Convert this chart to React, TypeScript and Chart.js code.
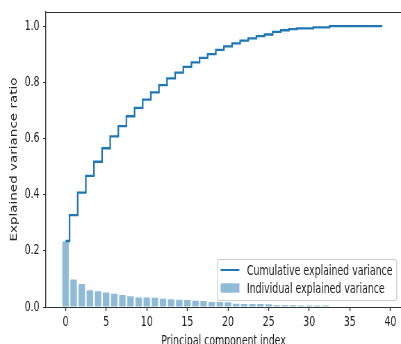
import React, { useEffect, useRef } from 'react';
import { Chart, registerables } from 'chart.js';

Chart.register(...registerables);

// ---------- data ----------
const componentIndex = [
  0, 1, 2, 3, 4, 5, 6, 7, 8, 9,
  10, 11, 12, 13, 14, 15, 16, 17, 18, 19,
  20, 21, 22, 23, 24, 25, 26, 27, 28, 29,
  30, 31, 32, 33, 34, 35, 36, 37, 38, 39,
];

const individualVariance = [
  0.233, 0.098, 0.082, 0.060, 0.056, 0.052, 0.047, 0.043, 0.038, 0.034,
  0.034, 0.033, 0.029, 0.028, 0.026, 0.025, 0.022, 0.021, 0.018, 0.018,
  0.017, 0.012, 0.011, 0.011, 0.011, 0.010, 0.006, 0.006, 0.006, 0.005,
  0.005, 0.005, 0.005, 0.0, 0.0, 0.0, 0.0, 0.0, 0.0, 0.0,
];

const cumulativeVariance = [
  0.235, 0.327, 0.407, 0.467, 0.517, 0.565, 0.607, 0.644, 0.679, 0.709,
  0.738, 0.764, 0.790, 0.814, 0.834, 0.855, 0.871, 0.887, 0.900, 0.915,
  0.928, 0.938, 0.948, 0.956, 0.964, 0.970, 0.979, 0.985, 0.989, 0.992,
  0.992, 0.995, 0.995, 1.0, 1.0, 1.0, 1.0, 1.0, 1.0, 1.0,
];

const xTickValues = [0, 5, 10, 15, 20, 25, 30, 35, 40];
const yTickValues = [0, 0.2, 0.4, 0.6, 0.8, 1.0];

const cumulativeLabel = 'Cumulative explained variance';
const individualLabel = 'Individual explained variance';
const xTitle = 'Principal component index';
const yTitle = 'Explained variance ratio';

// ---------- presentation ----------
const SCREEN_W = 401;
const SCREEN_H = 344;
const SQUISH = 0.695; // reference is horizontally compressed
const CANVAS_W = Math.round(SCREEN_W / SQUISH);
const CANVAS_H = SCREEN_H;
const FONT_SIZE = 13.5;
const FONT_FAMILY = '"DejaVu Sans", sans-serif';
const BLUE = '#1f77b4';
const BAR_FILL = 'rgba(31,119,180,0.5)';
const TEXT = '#222222';
const SPINE = '#333333';

const framePlugin = {
  id: 'topSpine',
  afterDraw(chart: any) {
    const { ctx, chartArea } = chart;
    ctx.save();
    ctx.strokeStyle = SPINE;
    ctx.lineWidth = 1;
    ctx.beginPath();
    const y = Math.round(chartArea.top) + 0.5;
    ctx.moveTo(chartArea.left, y);
    ctx.lineTo(chartArea.right, y);
    ctx.stroke();
    ctx.restore();
  },
};

const legendPlugin = {
  id: 'insideLegend',
  afterDraw(chart: any) {
    const { ctx, chartArea } = chart;
    const em = FONT_SIZE;
    const datasets = chart.data.datasets;
    ctx.save();
    ctx.font = `${FONT_SIZE}px ${FONT_FAMILY}`;
    const labels = datasets.map((d: any) => d.label as string);
    const textW = Math.max(...labels.map((l: string) => ctx.measureText(l).width));
    const pad = 0.4 * em;
    const handle = 2 * em;
    const gap = 0.8 * em;
    const width = pad + handle + gap + textW + pad;
    const height = 41;
    const right = chartArea.right - 0.5 * em;
    const bottom = chartArea.bottom - 7;
    const left = right - width;
    const top = bottom - height;

    ctx.beginPath();
    if ((ctx as any).roundRect) {
      (ctx as any).roundRect(left + 0.5, top + 0.5, width, height, 3);
    } else {
      ctx.rect(left + 0.5, top + 0.5, width, height);
    }
    ctx.fillStyle = 'rgba(255,255,255,0.8)';
    ctx.fill();
    ctx.strokeStyle = '#cccccc';
    ctx.lineWidth = 1.2;
    ctx.stroke();

    const rows = [top + 11, top + 29];
    datasets.forEach((d: any, i: number) => {
      const y = rows[i];
      const x0 = left + pad;
      if (d.type === 'line') {
        ctx.strokeStyle = d.borderColor;
        ctx.lineWidth = 2;
        ctx.beginPath();
        ctx.moveTo(x0, y);
        ctx.lineTo(x0 + handle, y);
        ctx.stroke();
      } else {
        ctx.fillStyle = d.backgroundColor;
        ctx.fillRect(x0, y - 4.7, handle, 9.4);
      }
      ctx.fillStyle = TEXT;
      ctx.textAlign = 'left';
      ctx.textBaseline = 'middle';
      ctx.fillText(d.label, x0 + handle + gap, y + 1);
    });
    ctx.restore();
  },
};

export default function App() {
  const canvasRef = useRef<HTMLCanvasElement | null>(null);

  useEffect(() => {
    const canvas = canvasRef.current;
    if (!canvas) return;
    Chart.defaults.font.family = FONT_FAMILY;
    Chart.defaults.font.size = FONT_SIZE;
    Chart.defaults.color = TEXT;

    const chart = new Chart(canvas, {
      type: 'bar',
      data: {
        datasets: [
          {
            type: 'line',
            label: cumulativeLabel,
            data: componentIndex.map((x, i) => ({ x, y: cumulativeVariance[i] })),
            borderColor: BLUE,
            backgroundColor: BLUE,
            borderWidth: 2.3,
            pointRadius: 0,
            stepped: 'middle',
            fill: false,
            order: 0,
          } as any,
          {
            type: 'bar',
            label: individualLabel,
            data: componentIndex.map((x, i) => ({ x, y: individualVariance[i] })),
            backgroundColor: BAR_FILL,
            borderWidth: 0,
            barPercentage: 0.8,
            categoryPercentage: 1,
            order: 1,
          } as any,
        ],
      },
      options: {
        responsive: false,
        animation: false,
        devicePixelRatio: 1,
        layout: { padding: { top: 12, left: 0, right: 0, bottom: 0 } },
        plugins: {
          legend: { display: false },
          tooltip: { enabled: false },
        },
        scales: {
          x: {
            type: 'linear',
            min: -2.4,
            max: 41.3,
            offset: false,
            afterBuildTicks: (s: any) => {
              s.ticks = xTickValues.map((v) => ({ value: v }));
            },
            afterFit: (s: any) => {
              s.height = CANVAS_H - 307;
              s.paddingLeft = 0;
              s.paddingRight = 0;
            },
            ticks: {
              color: TEXT,
              padding: 3,
              maxRotation: 0,
              autoSkip: false,
              font: { size: FONT_SIZE },
              callback: (v: any) => String(v),
            },
            grid: {
              display: true,
              drawOnChartArea: false,
              drawTicks: true,
              tickLength: 4,
              tickColor: SPINE,
              tickWidth: 1.4,
              offset: false,
            },
            border: { display: true, color: SPINE, width: 1 },
            title: {
              display: true,
              text: xTitle,
              color: TEXT,
              font: { size: FONT_SIZE },
              padding: { top: 0, bottom: -6 },
            },
          },
          y: {
            type: 'linear',
            min: 0,
            max: 1.05,
            afterBuildTicks: (s: any) => {
              s.ticks = yTickValues.map((v) => ({ value: v }));
            },
            afterFit: (s: any) => {
              s.width = 46 / SQUISH;
              s.paddingTop = 0;
              s.paddingBottom = 0;
            },
            ticks: {
              color: TEXT,
              padding: 5,
              autoSkip: false,
              font: { size: FONT_SIZE },
              callback: (v: any) => Number(v).toFixed(1),
            },
            grid: {
              display: true,
              drawOnChartArea: false,
              drawTicks: true,
              tickLength: 4.3,
              tickColor: SPINE,
              tickWidth: 1,
            },
            border: { display: true, color: SPINE, width: 1.4 },
            title: {
              display: true,
              text: yTitle,
              color: TEXT,
              font: { size: FONT_SIZE },
              padding: { top: 12, bottom: 0 },
            },
          },
        },
      },
      plugins: [framePlugin, legendPlugin],
    } as any);

    return () => chart.destroy();
  }, []);

  return (
    <div style={{ position: 'fixed', left: 0, top: 0, width: SCREEN_W, height: SCREEN_H, background: '#fff' }}>
      <canvas
        ref={canvasRef}
        width={CANVAS_W}
        height={CANVAS_H}
        style={{ display: 'block', width: `${SCREEN_W}px`, height: `${SCREEN_H}px` }}
      />
    </div>
  );
}
